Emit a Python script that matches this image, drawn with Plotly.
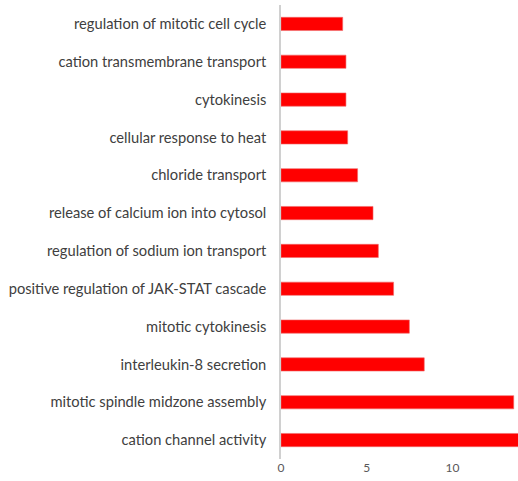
import plotly.graph_objects as go

# GO terms, listed bottom to top
terms = [
    "cation channel activity",
    "mitotic spindle midzone assembly",
    "interleukin-8 secretion",
    "mitotic cytokinesis",
    "positive regulation of JAK-STAT cascade",
    "regulation of sodium ion transport",
    "release of calcium ion into cytosol",
    "chloride transport",
    "cellular response to heat",
    "cytokinesis",
    "cation transmembrane transport",
    "regulation of mitotic cell cycle",
]
scores = [14.2, 13.58, 8.36, 7.49, 6.57, 5.68, 5.37, 4.47, 3.89, 3.79, 3.79, 3.6]
x_ticks = [0, 5, 10]

fig = go.Figure(
    go.Bar(
        x=scores,
        y=terms,
        orientation="h",
        width=0.35,
        marker=dict(color="#ff0000", line=dict(color="#f06a6a", width=0.6)),
    )
)

fig.update_layout(
    width=518,
    height=481,
    margin=dict(l=281, r=0, t=5, b=22),
    plot_bgcolor="white",
    paper_bgcolor="white",
    showlegend=False,
    font=dict(family="Lato", color="#404040"),
)
fig.update_xaxes(
    range=[0, 13.83],
    tickvals=x_ticks,
    showgrid=False,
    zeroline=False,
    showline=False,
    ticks="",
    tickfont=dict(size=12, color="#595959"),
    fixedrange=True,
)
fig.update_yaxes(
    categoryorder="array",
    categoryarray=terms,
    showgrid=False,
    zeroline=False,
    showline=True,
    linecolor="#d0d0d0",
    linewidth=1.5,
    ticks="",
    ticklabelstandoff=10,
    tickfont=dict(size=14.7, color="#404040"),
    automargin=False,
)

fig.write_html("out.html")
